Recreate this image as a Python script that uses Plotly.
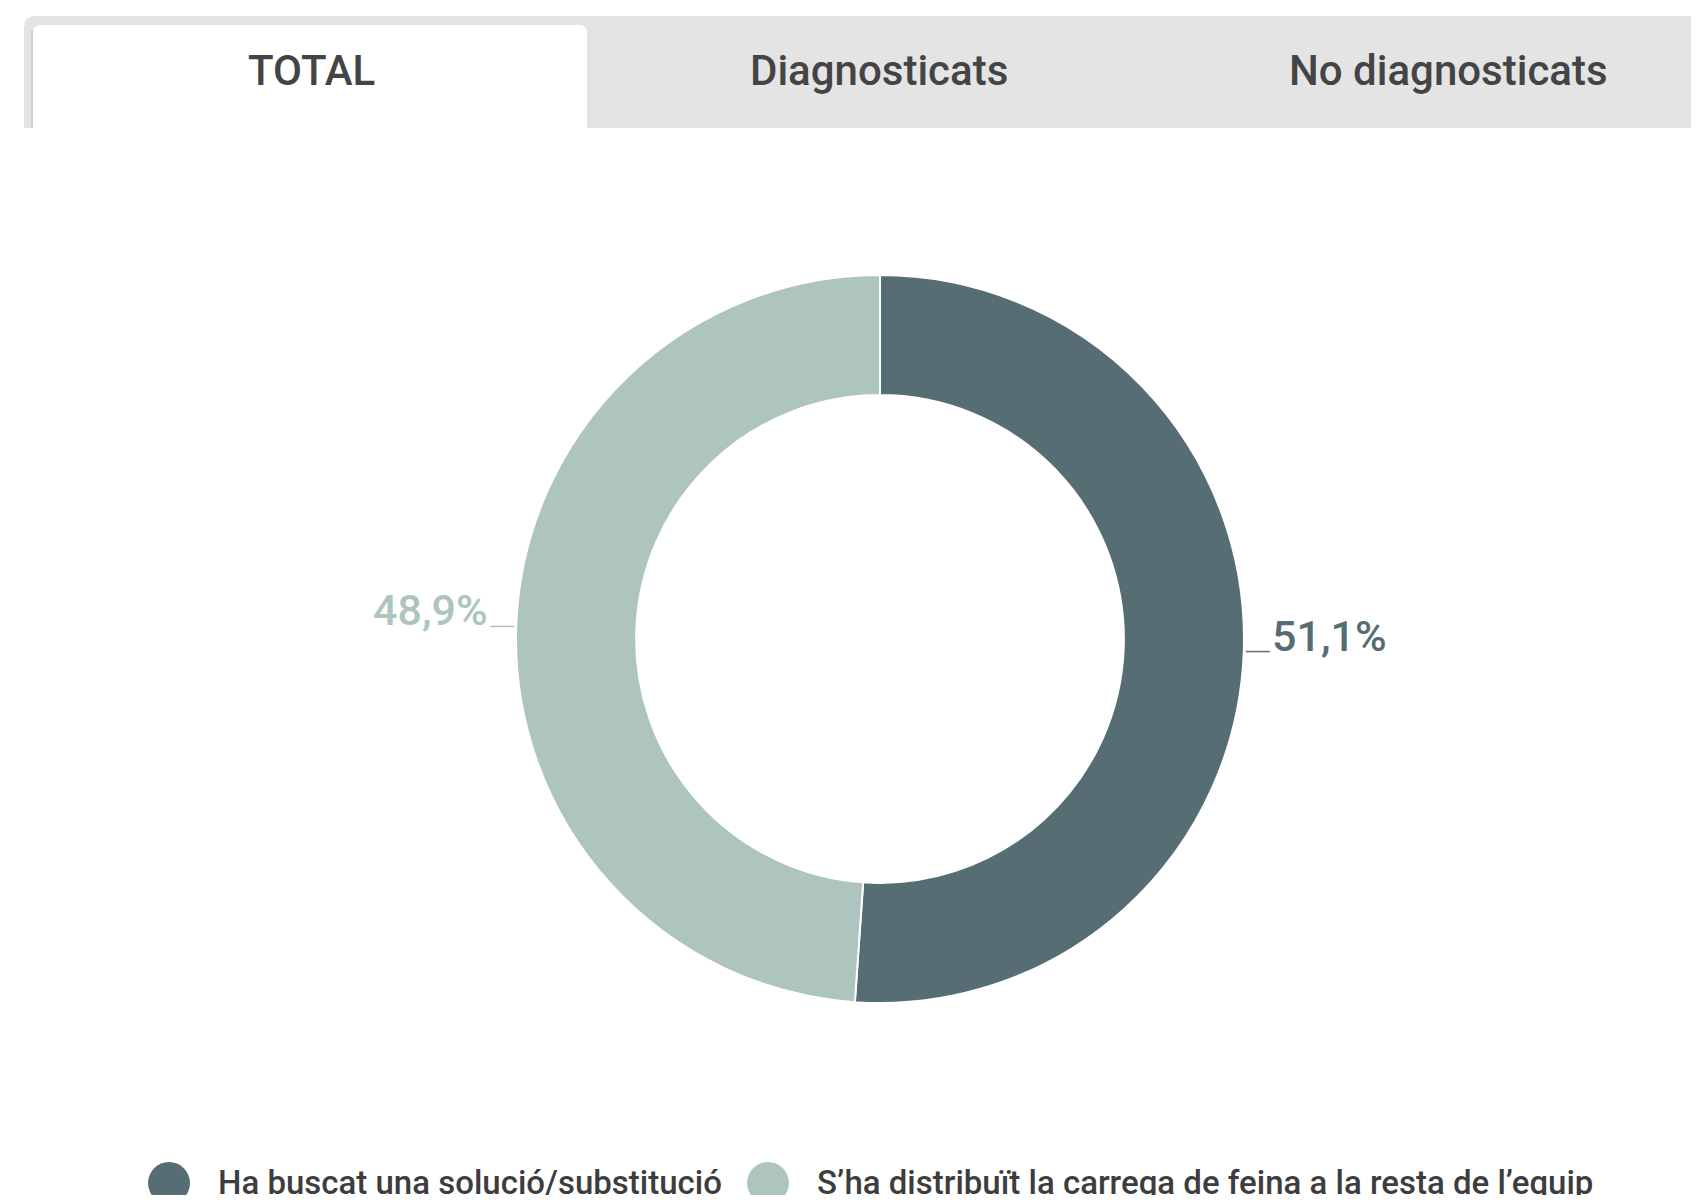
import math
import plotly.graph_objects as go

# page is rendered with an 8px body margin; figure coordinates = page - 8
OFF = 8
W, H = 1699 - 2 * OFF, 1203 - 2 * OFF

categories = ["Ha buscat una solució/substitució", "S’ha distribuït la carrega de feina a la resta de l’equip"]
values = [51.1, 48.9]
colors = ["#566e73", "#adc5be"]
tabs = ["TOTAL", "Diagnosticats", "No diagnosticats"]

def px(x):
    return (x - OFF) / W

def py(y):
    return 1 - (y - OFF) / H

cx, cy, r = 880, 639, 364

fig = go.Figure()
fig.add_trace(go.Pie(
    labels=categories,
    values=values,
    hole=0.67,
    sort=False,
    direction="clockwise",
    rotation=0,
    marker=dict(colors=colors, line=dict(color="#ffffff", width=2)),
    textinfo="none",
    showlegend=False,
    hoverinfo="label+percent",
    domain=dict(x=[px(cx - r), px(cx + r)], y=[py(cy + r), py(cy - r)]),
))

shapes = []
annotations = []

# data labels with short connectors, placed at each slice's mid angle
total = sum(values)
start = 0.0
for v, col in zip(values, colors):
    mid = (start + v / 2) / total * 2 * math.pi
    start += v
    ex = cx + r * math.sin(mid)
    ey = cy - r * math.cos(mid)
    side = 1 if math.sin(mid) >= 0 else -1
    x0 = ex + side * 2
    x1 = ex + side * 26
    shapes.append(dict(type="line", xref="paper", yref="paper",
        x0=px(x0), x1=px(x1), y0=py(ey), y1=py(ey), line=dict(color=col, width=1.5)))
    label = f"{v:.1f}".replace(".", ",") + "%"
    annotations.append(dict(text=label, x=px(x1), y=py(ey - 16), xref="paper", yref="paper",
        showarrow=False, xanchor="left" if side > 0 else "right", yanchor="middle",
        font=dict(family="Roboto", size=43, color=col, weight=500)))

# tab bar background
shapes.append(dict(type="path", xref="paper", yref="paper",
    path=f"M {px(24)},{py(128)} L {px(24)},{py(28)} Q {px(24)},{py(16)} {px(36)},{py(16)} L {px(1699)},{py(16)} L {px(1699)},{py(128)} Z",
    fillcolor="#e4e4e4", line=dict(width=0), layer="below"))
shapes.append(dict(type="line", xref="paper", yref="paper",
    x0=px(32), x1=px(32), y0=py(30), y1=py(128), line=dict(color="#d2d2d2", width=2), layer="below"))
shapes.append(dict(type="path", xref="paper", yref="paper",
    path=f"M {px(33)},{py(128)} L {px(33)},{py(33)} Q {px(33)},{py(25)} {px(41)},{py(25)} L {px(579)},{py(25)} Q {px(587)},{py(25)} {px(587)},{py(33)} L {px(587)},{py(128)} Z",
    fillcolor="#ffffff", line=dict(width=0), layer="below"))

tab_x = [311, 879, 1448]
for t, x in zip(tabs, tab_x):
    annotations.append(dict(text=t, x=px(x), y=py(70), xref="paper", yref="paper",
        showarrow=False, xanchor="center", yanchor="middle",
        font=dict(family="Roboto", size=42, color="#444444", weight=500)))

# legend
leg_marker_x = [169, 768]
leg_text_x = [216, 815]
leg_y = 1182
for cat, col, mx, tx in zip(categories, colors, leg_marker_x, leg_text_x):
    shapes.append(dict(type="circle", xref="paper", yref="paper",
        xsizemode="pixel", ysizemode="pixel", xanchor=px(mx), yanchor=py(1183),
        x0=-21, x1=21, y0=-21, y1=21, fillcolor=col, line=dict(width=0)))
    annotations.append(dict(text=cat, x=px(tx), y=py(leg_y), xref="paper", yref="paper",
        showarrow=False, xanchor="left", yanchor="middle",
        font=dict(family="Roboto", size=33, color="#3d3d3d", weight=500)))

fig.update_layout(
    width=W, height=H,
    margin=dict(l=0, r=0, t=0, b=0),
    paper_bgcolor="#ffffff",
    plot_bgcolor="#ffffff",
    separators=",.",
    shapes=shapes,
    annotations=annotations,
    font=dict(family="Roboto"),
)

fig.write_html("out.html")
